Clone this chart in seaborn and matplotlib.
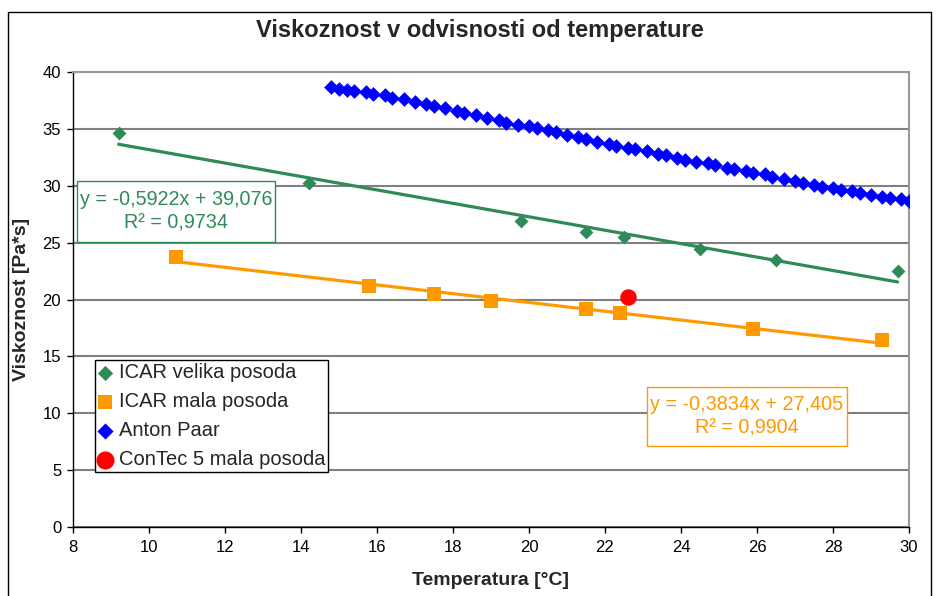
import numpy as np
import pandas as pd
import seaborn as sns
import matplotlib.pyplot as plt
from matplotlib.patches import Rectangle

# data ------------------------------------------------------------------------------------------
velika_t = [9.2, 14.2, 19.8, 21.5, 22.5, 24.5, 26.5, 29.7]
velika_v = [34.6, 30.2, 26.9, 25.9, 25.5, 24.4, 23.5, 22.5]

mala_t = [10.7, 15.8, 17.5, 19.0, 21.5, 22.4, 25.9, 29.3]
mala_v = [23.7, 21.2, 20.5, 19.9, 19.2, 18.8, 17.4, 16.4]

anton_t = [14.8, 15.0, 15.2, 15.4, 15.7, 15.9, 16.2, 16.4, 16.7, 17.0,
           17.3, 17.5, 17.8, 18.1, 18.3, 18.6, 18.9, 19.2, 19.4, 19.7,
           20.0, 20.2, 20.5, 20.7, 21.0, 21.3, 21.5, 21.8, 22.1, 22.3,
           22.6, 22.8, 23.1, 23.4, 23.6, 23.9, 24.1, 24.4, 24.7, 24.9,
           25.2, 25.4, 25.7, 25.9, 26.2, 26.4, 26.7, 27.0, 27.2, 27.5,
           27.7, 28.0, 28.2, 28.5, 28.7, 29.0, 29.3, 29.5, 29.8, 30.0]
anton_v = [38.66, 38.51, 38.44, 38.36, 38.27, 38.09, 37.98, 37.74, 37.60, 37.39,
           37.19, 36.98, 36.86, 36.60, 36.40, 36.19, 35.98, 35.78, 35.54, 35.37,
           35.25, 35.05, 34.90, 34.70, 34.46, 34.29, 34.11, 33.87, 33.70, 33.52,
           33.35, 33.20, 33.03, 32.79, 32.68, 32.47, 32.26, 32.11, 31.97, 31.80,
           31.59, 31.45, 31.30, 31.15, 31.03, 30.74, 30.62, 30.44, 30.27, 30.07,
           29.92, 29.78, 29.63, 29.54, 29.39, 29.21, 29.04, 28.92, 28.81, 28.69]

contec_t = [22.6]
contec_v = [20.2]

x_ticks = [8, 10, 12, 14, 16, 18, 20, 22, 24, 26, 28, 30]
y_ticks = [0, 5, 10, 15, 20, 25, 30, 35, 40]

eq_velika = 'y = -0,5922x + 39,076\nR² = 0,9734'
eq_mala = 'y = -0,3834x + 27,405\nR² = 0,9904'

green = '#2E8B57'
orange = '#FF9900'
blue = '#0000FF'
red = '#FF0000'

# styling --------------------------------------------------------------------------------------
sns.set_theme(style='white')
plt.rcParams['font.family'] = ['Liberation Sans', 'DejaVu Sans']

fig = plt.figure(figsize=(9.39, 5.96), dpi=100)
ax = fig.add_axes([73 / 939, 69 / 596, 836 / 939, 455 / 596])

# outer chart frame
fig.patches.append(Rectangle((8 / 939, -0.05), 923 / 939, 1.05 - 12 / 596,
                             transform=fig.transFigure, fill=False,
                             edgecolor='black', lw=1.0, zorder=0))

# trendlines
sns.regplot(x=velika_t, y=velika_v, ci=None, scatter=False, ax=ax,
            line_kws={'color': green, 'lw': 2.3, 'zorder': 2})
sns.regplot(x=mala_t, y=mala_v, ci=None, scatter=False, ax=ax,
            line_kws={'color': orange, 'lw': 2.3, 'zorder': 2})

# series
sns.scatterplot(x=velika_t, y=velika_v, marker='D', s=50, color=green,
                linewidth=0, label='ICAR velika posoda', ax=ax, zorder=3)
sns.scatterplot(x=mala_t, y=mala_v, marker='s', s=92, color=orange,
                linewidth=0, label='ICAR mala posoda', ax=ax, zorder=3)
sns.scatterplot(x=anton_t, y=anton_v, marker='D', s=56, color=blue,
                linewidth=0, label='Anton Paar', ax=ax, zorder=3)
sns.scatterplot(x=contec_t, y=contec_v, marker='o', s=140, color=red,
                linewidth=0, label='ConTec 5 mala posoda', ax=ax, zorder=4)

ax.set_xlim(8, 30)
ax.set_ylim(0, 40)
ax.set_xticks(x_ticks)
ax.set_yticks(y_ticks)
ax.tick_params(axis='both', direction='out', length=4.5, width=1, colors='black',
               labelsize=12, bottom=True, left=True)
ax.tick_params(axis='x', pad=5)
ax.tick_params(axis='y', pad=4)

ax.yaxis.grid(True, color='#808080', lw=1.5, zorder=0)
ax.set_axisbelow(True)
for side in ['left', 'bottom']:
    ax.spines[side].set_color('black')
    ax.spines[side].set_linewidth(1.0)
for side in ['top', 'right']:
    ax.spines[side].set_color('#999999')
    ax.spines[side].set_linewidth(1.5)

ax.set_xlabel('Temperatura [°C]', fontsize=14, fontweight='bold', labelpad=12)
ax.set_ylabel('Viskoznost [Pa*s]', fontsize=14, fontweight='bold', labelpad=9)
fig.text(480 / 939, 1 - 31 / 596, 'Viskoznost v odvisnosti od temperature',
         ha='center', va='center', fontsize=17, fontweight='bold')

# trendline equations, each in its own box
ax.add_patch(Rectangle((0.005, 0.626), 0.237, 0.134, transform=ax.transAxes,
                       facecolor='white', edgecolor=green, lw=1, zorder=5))
ax.text(0.1234, 0.693, eq_velika, transform=ax.transAxes, ha='center', va='center',
        multialignment='center', fontsize=14.2, color=green, zorder=6, linespacing=1.3)
ax.add_patch(Rectangle((0.687, 0.178), 0.239, 0.130, transform=ax.transAxes,
                       facecolor='white', edgecolor=orange, lw=1, zorder=5))
ax.text(0.806, 0.243, eq_mala, transform=ax.transAxes, ha='center', va='center',
        multialignment='center', fontsize=14.2, color=orange, zorder=6, linespacing=1.3)

leg = ax.legend(loc='upper left', bbox_to_anchor=(0.026, 0.367), borderaxespad=0,
                fontsize=14.5, frameon=True, fancybox=False, framealpha=1,
                edgecolor='black', handlelength=0.7, handletextpad=0.35,
                labelspacing=0.5, borderpad=0.15, markerscale=1.1)
leg.get_frame().set_linewidth(1.0)
leg.set_zorder(7)

fig.savefig('out.png', dpi=100)
